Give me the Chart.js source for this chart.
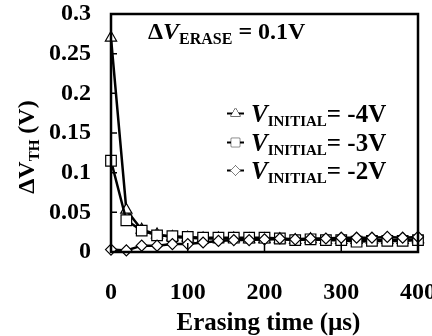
<!DOCTYPE html>
<html>
<head>
<meta charset="utf-8">
<script src="https://cdn.jsdelivr.net/npm/chart.js@4.4.1/dist/chart.umd.min.js"></script>
<style>
  html, body { margin: 0; padding: 0; background: #fff; }
  #wrap { width: 432px; height: 336px; }
</style>
</head>
<body>
<div id="wrap"><canvas id="eraseChart" width="432" height="336"></canvas></div>
<script>
const times = [0, 20, 40, 60, 80, 100, 120, 140, 160, 180, 200, 220, 240, 260, 280, 300, 320, 340, 360, 380, 400];
const init4V = [0.27, 0.053, 0.028, 0.022, 0.019, 0.018, 0.017, 0.017, 0.017, 0.016, 0.016, 0.016, 0.015, 0.016, 0.015, 0.015, 0.015, 0.015, 0.015, 0.015, 0.016];
const init3V = [0.115, 0.040, 0.027, 0.021, 0.020, 0.019, 0.018, 0.018, 0.018, 0.018, 0.018, 0.017, 0.015, 0.016, 0.015, 0.015, 0.013, 0.014, 0.014, 0.014, 0.015];
const init2V = [0.003, 0.002, 0.008, 0.008, 0.010, 0.010, 0.012, 0.014, 0.015, 0.015, 0.016, 0.017, 0.016, 0.017, 0.017, 0.018, 0.018, 0.018, 0.019, 0.018, 0.019];
const xTicks = [0, 100, 200, 300, 400];
const yTicks = [0, 0.05, 0.1, 0.15, 0.2, 0.25, 0.3];
const legendLabels = ["-4V", "-3V", "-2V"];
const xTitle = "Erasing time (\u00b5s)";

const SERIF = "'Liberation Serif', 'Times New Roman', serif";

function toPoints(ys) {
    return times.map((t, i) => ({ x: t, y: ys[i] }));
}

// draws a run of text pieces side by side, each with its own font and vertical shift
function drawRich(ctx, parts, x, y) {
    let cx = x;
    parts.forEach(p => {
        ctx.font = p.font;
        ctx.fillText(p.t, cx, y + (p.dy || 0));
        cx += ctx.measureText(p.t).width;
    });
}

function richWidth(ctx, parts) {
    let w = 0;
    parts.forEach(p => {
        ctx.font = p.font;
        w += ctx.measureText(p.t).width;
    });
    return w;
}

const overlay = {
    id: "overlay",
    afterDraw(chart) {
        const ctx = chart.ctx;
        const a = chart.chartArea;
        const xs = chart.scales.x;
        const ys = chart.scales.y;
        ctx.save();
        ctx.strokeStyle = "#000";
        ctx.fillStyle = "#000";

        // frame
        ctx.lineWidth = 2.5;
        ctx.strokeRect(a.left, a.top, a.right - a.left, a.bottom - a.top);

        // inner tick marks
        ctx.lineWidth = 1.5;
        ctx.beginPath();
        yTicks.slice(1, -1).forEach(v => {
            const py = ys.getPixelForValue(v);
            ctx.moveTo(a.left, py);
            ctx.lineTo(a.left + 6, py);
        });
        xTicks.slice(1, -1).forEach(v => {
            const px = xs.getPixelForValue(v);
            ctx.moveTo(px, a.bottom);
            ctx.lineTo(px, a.bottom - 9);
        });
        ctx.stroke();

        ctx.textBaseline = "alphabetic";
        ctx.textAlign = "left";

        // x axis title
        const xt = [{ t: xTitle, font: "bold 25px " + SERIF }];
        drawRich(ctx, xt, (a.left + a.right) / 2 + 4 - richWidth(ctx, xt) / 2, 330);

        // y axis title
        const yTitle = [
            { t: "\u0394V", font: "bold 24px " + SERIF },
            { t: "TH", font: "bold 15px " + SERIF, dy: 5 },
            { t: " (V)", font: "bold 24px " + SERIF }
        ];
        ctx.save();
        ctx.translate(34, 147);
        ctx.rotate(-Math.PI / 2);
        drawRich(ctx, yTitle, -richWidth(ctx, yTitle) / 2, 0);
        ctx.restore();

        // note in the top of the plot
        drawRich(ctx, [
            { t: "\u0394", font: "bold 24px " + SERIF },
            { t: "V", font: "italic bold 24px " + SERIF },
            { t: "ERASE", font: "bold 16px " + SERIF, dy: 5 },
            { t: " = 0.1V", font: "bold 24px " + SERIF }
        ], 148, 39);

        // legend
        const styles = ["triangle", "rect", "rectRot"];
        const radii = [5.5, 6, 5];
        legendLabels.forEach((lab, i) => {
            const cy = Math.round(113 + i * 28.5) + 0.5;
            ctx.lineWidth = 2;
            ctx.beginPath();
            ctx.moveTo(227, cy);
            ctx.lineTo(244, cy);
            ctx.stroke();
            ctx.fillStyle = "#fff";
            ctx.lineWidth = 1;
            Chart.helpers.drawPoint(ctx, { pointStyle: styles[i], radius: radii[i], rotation: 0, borderWidth: 1 }, 235.5, cy);
            ctx.fill();
            ctx.fillStyle = "#000";
            drawRich(ctx, [
                { t: "V", font: "italic bold 25px " + SERIF },
                { t: "INITIAL", font: "bold 15px " + SERIF, dy: 4 },
                { t: "= " + lab, font: "bold 25px " + SERIF }
            ], 251, cy + 8);
        });

        ctx.restore();
    }
};

const lineSet = (label, ys, style, radius, order) => ({
    label: label,
    data: toPoints(ys),
    borderColor: "#000",
    borderWidth: 2.5,
    pointStyle: style,
    pointRadius: radius,
    pointHoverRadius: radius,
    pointBackgroundColor: "#fff",
    pointBorderColor: "#000",
    pointBorderWidth: 1.2,
    tension: 0,
    clip: false,
    order: order
});

new Chart(document.getElementById("eraseChart"), {
    type: "line",
    data: {
        datasets: [
            lineSet("V_INITIAL = -4V", init4V, "triangle", 6.5, 2),
            lineSet("V_INITIAL = -3V", init3V, "rect", 7.5, 1),
            lineSet("V_INITIAL = -2V", init2V, "rectRot", 5.5, 0)
        ]
    },
    options: {
        responsive: false,
        animation: false,
        events: [],
        layout: { padding: { top: 14, right: 14, left: 0, bottom: 0 } },
        plugins: {
            legend: { display: false },
            tooltip: { enabled: false }
        },
        scales: {
            x: {
                type: "linear",
                min: 0,
                max: 400,
                afterBuildTicks: s => { s.ticks = xTicks.map(v => ({ value: v })); },
                grid: { display: false, drawTicks: false },
                border: { display: false },
                ticks: {
                    color: "#000",
                    padding: 26,
                    maxRotation: 0,
                    font: { family: SERIF, size: 24, weight: "bold" }
                },
                afterFit: s => { s.height = 84; s.paddingLeft = 0; s.paddingRight = 0; }
            },
            y: {
                min: 0,
                max: 0.3,
                afterBuildTicks: s => { s.ticks = yTicks.map(v => ({ value: v })); },
                grid: { display: false, drawTicks: false },
                border: { display: false },
                ticks: {
                    color: "#000",
                    padding: 20,
                    font: { family: SERIF, size: 24, weight: "bold" },
                    callback: v => String(Math.round(v * 100) / 100)
                },
                afterFit: s => { s.width = 111; s.paddingTop = 0; s.paddingBottom = 0; }
            }
        }
    },
    plugins: [overlay]
});
</script>
</body>
</html>
